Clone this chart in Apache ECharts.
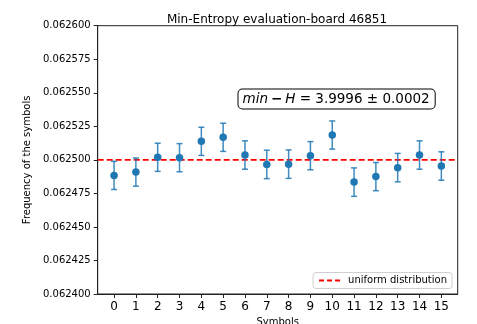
<!DOCTYPE html>
<html>
<head>
<meta charset="utf-8">
<script src="https://cdn.jsdelivr.net/npm/echarts@6/dist/echarts.min.js"></script>
<style>html,body{margin:0;padding:0;background:#fff}#c{width:477px;height:324px}</style>
</head>
<body>
<div id="c"></div>
<script>
var symbols = [0, 1, 2, 3, 4, 5, 6, 7, 8, 9, 10, 11, 12, 13, 14, 15];
var frequencies = [0.0624884, 0.0624909, 0.0625019, 0.0625016, 0.0625138, 0.0625168, 0.0625036, 0.0624966,
                   0.0624968, 0.0625031, 0.0625185, 0.0624834, 0.0624875, 0.0624942, 0.0625036, 0.0624954];
var errors = [0.0000105, 0.0000105, 0.0000105, 0.0000105, 0.0000105, 0.0000105, 0.0000106, 0.0000106,
              0.0000106, 0.0000105, 0.0000105, 0.0000106, 0.0000105, 0.0000106, 0.0000106, 0.0000106];
var uniformValue = 0.0625;
var yTicks = [0.062400, 0.062425, 0.062450, 0.062475, 0.062500, 0.062525, 0.062550, 0.062575, 0.062600];
var titleText = 'Min-Entropy evaluation-board 46851';
var xName = 'Symbols';
var yName = 'Frequency of the symbols';
var legendName = 'uniform distribution';
var annotation = { label: 'min', op: '−', sym: 'H', value: '3.9996', err: '0.0002' };

var FONT = 'DejaVu Sans';
var BLUE = '#1f77b4';
var chart = echarts.init(document.getElementById('c'), null, { renderer: 'canvas' });

var xMin = -0.75, xMax = 15.75;

chart.setOption({
  animation: false,
  textStyle: { fontFamily: FONT },
  title: {
    text: titleText, left: 272, top: 9, textAlign: 'center',
    textStyle: { fontFamily: FONT, fontSize: 12, fontWeight: 'normal', color: '#000' }
  },
  grid: { left: 97.7, top: 25.7, right: 19.3, bottom: 30, outerBoundsMode: 'none', containLabel: false,
    show: true, borderColor: '#222', borderWidth: 1, backgroundColor: '#fff' },
  legend: {
    data: [legendName], right: 25, bottom: 35.5, itemWidth: 24, itemHeight: 10, itemGap: 6,
    padding: [3, 5, 3, 5], borderColor: '#d0d0d0', borderWidth: 1, borderRadius: 3, backgroundColor: '#fff',
    itemStyle: { opacity: 0 },
    lineStyle: { type: [5, 3] },
    textStyle: { fontFamily: FONT, fontSize: 10, color: '#000' }
  },
  xAxis: {
    type: 'value', min: xMin, max: xMax,
    name: xName, nameLocation: 'middle', nameGap: 21,
    nameTextStyle: { fontFamily: FONT, fontSize: 10, color: '#000' },
    axisLine: { onZero: false, lineStyle: { color: '#222', width: 1 } },
    axisTick: { customValues: symbols, length: 4, lineStyle: { color: '#222' } },
    axisLabel: { customValues: symbols, fontSize: 12, color: '#000', margin: 7, fontFamily: FONT },
    splitLine: { show: false }
  },
  yAxis: {
    type: 'value', min: yTicks[0], max: yTicks[yTicks.length - 1],
    name: yName, nameLocation: 'middle', nameGap: 55, nameRotate: 90,
    nameTextStyle: { fontFamily: FONT, fontSize: 10, color: '#000' },
    axisLine: { show: true, onZero: false, lineStyle: { color: '#222', width: 1 } },
    axisTick: { show: true, customValues: yTicks, length: 4, lineStyle: { color: '#222' } },
    axisLabel: { customValues: yTicks, fontSize: 10, color: '#000', margin: 7, fontFamily: FONT,
      formatter: function (v) { return v.toFixed(6); } },
    splitLine: { show: false }
  },
  graphic: [{
    type: 'text', left: 237.5, top: 88.5, z: 100,
    style: {
      text: '{i|' + annotation.label + '}{b|' + annotation.op + '}{i|' + annotation.sym + '}{n| = ' + annotation.value + ' ± ' + annotation.err + '}',
      rich: {
        i: { fontFamily: FONT, fontSize: 13.5, fontStyle: 'italic', fill: '#000' },
        b: { fontFamily: FONT, fontSize: 13.5, fontWeight: 'bold', fill: '#000', padding: [0, 3, 0, 3] },
        n: { fontFamily: FONT, fontSize: 13.5, fill: '#000' }
      },
      backgroundColor: '#fff', borderColor: '#000', borderWidth: 1, borderRadius: 4,
      padding: [3, 5, 2, 4]
    }
  }],
  series: [
    {
      name: legendName, type: 'line', symbol: 'none', z: 3,
      data: [[xMin, uniformValue], [xMax, uniformValue]],
      lineStyle: { color: '#ff0000', width: 1.6, type: [6, 3] },
      itemStyle: { color: '#ff0000' }
    },
    {
      name: 'errorbars', type: 'custom', z: 4,
      data: symbols.map(function (s, i) { return [s, frequencies[i], errors[i]]; }),
      renderItem: function (params, api) {
        var x = api.value(0), y = api.value(1), e = api.value(2);
        var top = api.coord([x, y + e]);
        var bot = api.coord([x, y - e]);
        var st = { stroke: BLUE, lineWidth: 1.5, opacity: 0.85 };
        var cw = 3;
        return {
          type: 'group',
          children: [
            { type: 'line', shape: { x1: top[0], y1: top[1], x2: bot[0], y2: bot[1] }, style: st },
            { type: 'line', shape: { x1: top[0] - cw, y1: top[1], x2: top[0] + cw, y2: top[1] }, style: st },
            { type: 'line', shape: { x1: bot[0] - cw, y1: bot[1], x2: bot[0] + cw, y2: bot[1] }, style: st }
          ]
        };
      }
    },
    {
      name: 'frequencies', type: 'scatter', z: 5, symbolSize: 7.5,
      data: symbols.map(function (s, i) { return [s, frequencies[i]]; }),
      itemStyle: { color: BLUE, opacity: 1 }
    }
  ]
});
</script>
</body>
</html>
